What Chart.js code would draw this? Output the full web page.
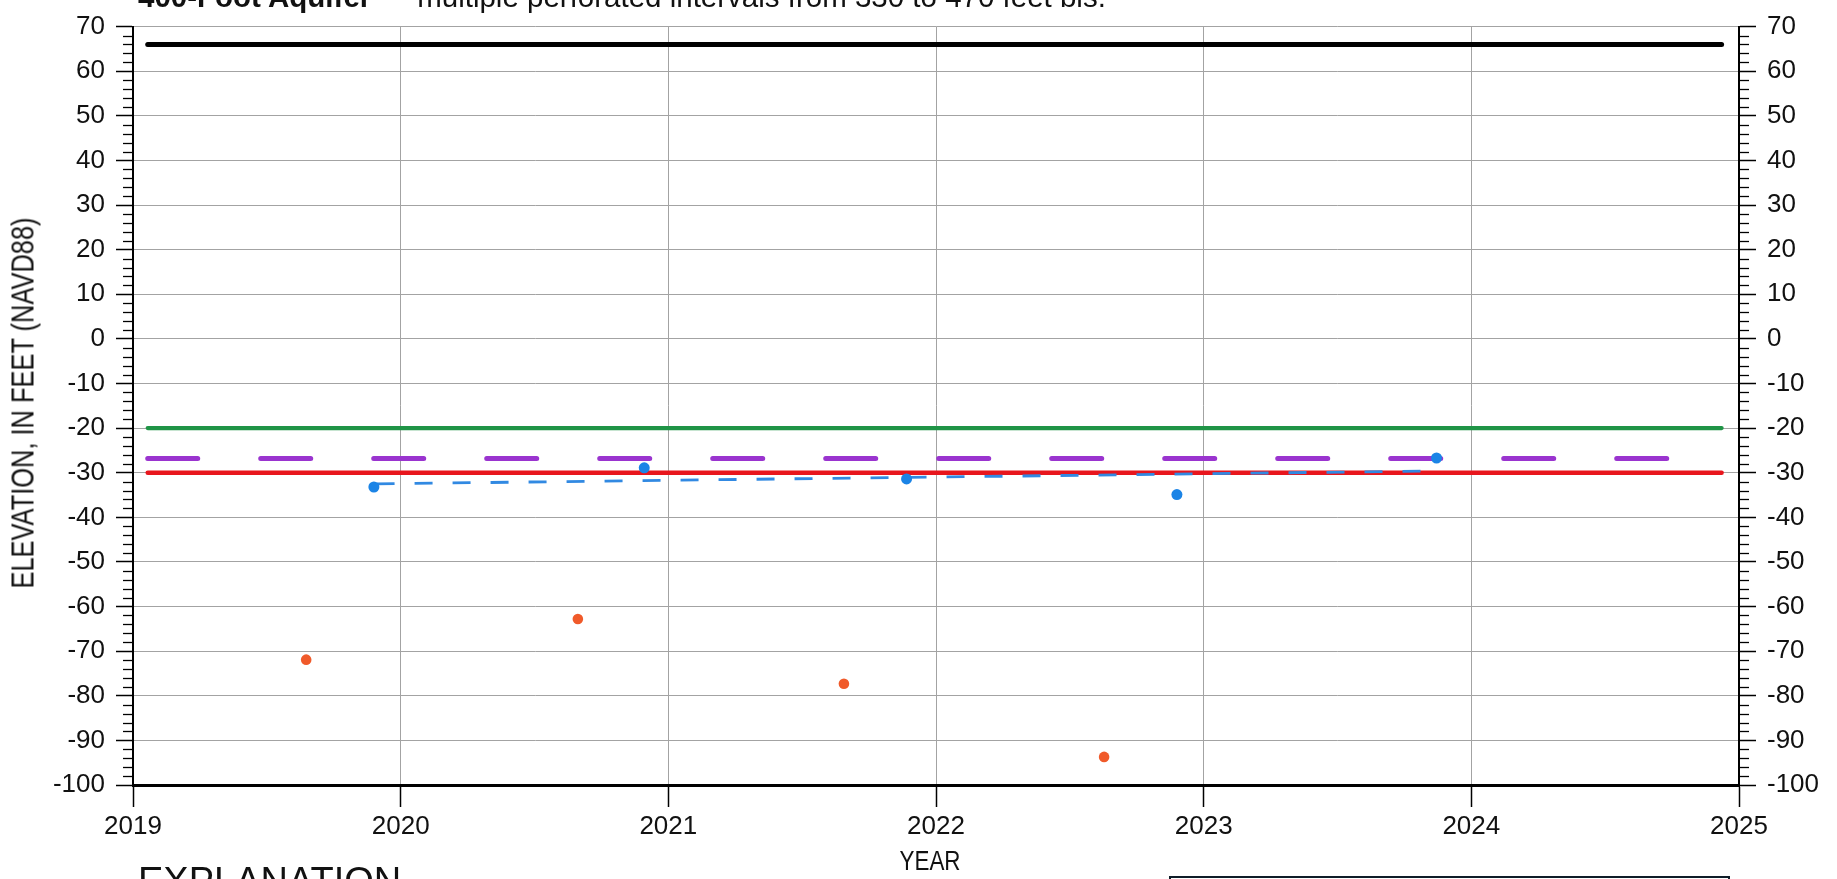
<!DOCTYPE html>
<html>
<head>
<meta charset="utf-8">
<script src="https://cdn.jsdelivr.net/npm/chart.js@4.4.1/dist/chart.umd.min.js"></script>
<style>
  html, body { margin: 0; padding: 0; background: #fff; }
  #wrap { position: relative; width: 1837px; height: 879px; overflow: hidden; background: #fff; }
  #plot { position: absolute; left: 0; top: 0; }
  .note { position: absolute; white-space: nowrap; font-family: 'Liberation Sans', Arial, sans-serif; color: #111; line-height: 1; }
  #header { left: 138px; top: -18px; font-size: 29.5px; }
  #header b { font-weight: bold; }
  #explain { left: 138px; top: 862px; font-size: 38px; }
  .axis-title { position: absolute; white-space: nowrap; font-family: 'Liberation Sans', Arial, sans-serif; color: #111; line-height: 1; }
  #ytitle { left: 23px; top: 403px; font-size: 31px; transform: translate(-50%, -50%) rotate(-90deg) scaleX(0.82); }
  #xtitle { left: 930px; top: 861px; font-size: 28px; transform: translate(-50%, -50%) scaleX(0.8); }
  #keybox { position: absolute; left: 1169px; top: 876px; width: 561px; height: 60px; border: 2px solid #0f1d28; box-sizing: border-box; }
</style>
</head>
<body>
<div id="wrap">
  <canvas id="plot" width="1837" height="879"></canvas>
  <div class="note" id="header"><b>400-Foot Aquifer</b> — multiple perforated intervals from 330 to 470 feet bls.</div>
  <div class="axis-title" id="ytitle">ELEVATION, IN FEET (NAVD88)</div>
  <div class="axis-title" id="xtitle">YEAR</div>
  <div class="note" id="explain">EXPLANATION</div>
  <div id="keybox"></div>
</div>
<script>
// Axis ranges
const yearMin = 2019;
const yearMax = 2025;
const elevMin = -100;
const elevMax = 70;
const elevStep = 10;
const elevMinorStep = 2;

// Horizontal reference levels, drawn across the record period
const levelSpan = [2019.055, 2024.935];
const landSurface = [66, 66];
const greenLevel = [-20, -20];
const purpleLevel = [-26.8, -26.8];
const redLevel = [-30, -30];

// Measured groundwater elevations (ft, NAVD88)
const blueYears = [2019.90, 2020.91, 2021.89, 2022.90, 2023.87];
const blueElev = [-33.2, -28.9, -31.4, -34.9, -26.7];
const orangeYears = [2019.647, 2020.662, 2021.656, 2022.628];
const orangeElev = [-71.9, -62.8, -77.3, -93.7];

// Trend through the blue measurements
const trendYears = [2019.91, 2023.87];
const trendElev = [-32.5, -29.6];

const pts = (xs, ys) => xs.map((x, i) => ({ x: x, y: ys[i] }));

const tickFont = { family: "'Liberation Sans', Arial, sans-serif", size: 26 };

// Minor tick marks every 2 ft on both elevation axes
const minorTicks = {
  id: 'minorTicks',
  afterDraw(chart) {
    const ctx = chart.ctx;
    const area = chart.chartArea;
    ctx.save();
    ctx.strokeStyle = '#000';
    ctx.lineWidth = 1.3;
    [['y', area.left, -1], ['y2', area.right, 1]].forEach(([id, edge, dir]) => {
      const s = chart.scales[id];
      for (let v = elevMin; v <= elevMax; v += elevMinorStep) {
        if (v % elevStep === 0) continue;
        const py = Math.round(s.getPixelForValue(v)) + 0.5;
        ctx.beginPath();
        ctx.moveTo(edge, py);
        ctx.lineTo(edge + dir * 10, py);
        ctx.stroke();
      }
    });
    ctx.restore();
  }
};

const flatLine = (data, color, width, dash) => ({
  data: data,
  showLine: true,
  borderColor: color,
  borderWidth: width,
  borderCapStyle: 'round',
  borderDash: dash || [],
  pointRadius: 0,
  tension: 0
});

new Chart(document.getElementById('plot'), {
  type: 'scatter',
  data: {
    datasets: [
      { data: pts(orangeYears, orangeElev), showLine: false, pointRadius: 5.3,
        pointBackgroundColor: '#f05a2a', pointBorderWidth: 0 },
      { data: pts(blueYears, blueElev), showLine: false, pointRadius: 5.5,
        pointBackgroundColor: '#1b84e6', pointBorderWidth: 0 },
      Object.assign(flatLine(pts(trendYears, trendElev), '#3189e2', 2.8, [18, 20]), { borderCapStyle: 'butt' }),
      flatLine(pts(levelSpan, redLevel), '#e8161d', 4.5),
      flatLine(pts(levelSpan, purpleLevel), '#9a34cf', 5, [50, 63]),
      flatLine(pts(levelSpan, greenLevel), '#1f9446', 4.2),
      flatLine(pts(levelSpan, landSurface), '#000', 5)
    ]
  },
  options: {
    responsive: false,
    animation: false,
    devicePixelRatio: 1,
    layout: { padding: { top: 20, left: 0, right: 0, bottom: 0 } },
    plugins: { legend: { display: false }, tooltip: { enabled: false } },
    scales: {
      x: {
        type: 'linear', position: 'bottom', min: yearMin, max: yearMax,
        afterFit(s) { s.height = 94; },
        ticks: { stepSize: 1, color: '#111', font: tickFont, padding: 4, maxRotation: 0,
                 callback: v => String(v) },
        grid: { color: '#a3a3a3', lineWidth: 1, tickColor: '#000', tickLength: 22, tickWidth: 1.5 },
        border: { color: '#000', width: 3 }
      },
      y: {
        type: 'linear', position: 'left', min: elevMin, max: elevMax,
        afterFit(s) { s.width = 133; },
        ticks: { stepSize: elevStep, color: '#111', font: tickFont, padding: 11 },
        grid: { color: '#a3a3a3', lineWidth: 1, tickColor: '#000', tickLength: 17, tickWidth: 1.5 },
        border: { color: '#000', width: 2 }
      },
      y2: {
        type: 'linear', position: 'right', min: elevMin, max: elevMax,
        afterFit(s) { s.width = 98; },
        ticks: { stepSize: elevStep, color: '#111', font: tickFont, padding: 11 },
        grid: { drawOnChartArea: false, tickColor: '#000', tickLength: 17, tickWidth: 1.5 },
        border: { color: '#000', width: 2 }
      }
    }
  },
  plugins: [minorTicks]
});
</script>
</body>
</html>
